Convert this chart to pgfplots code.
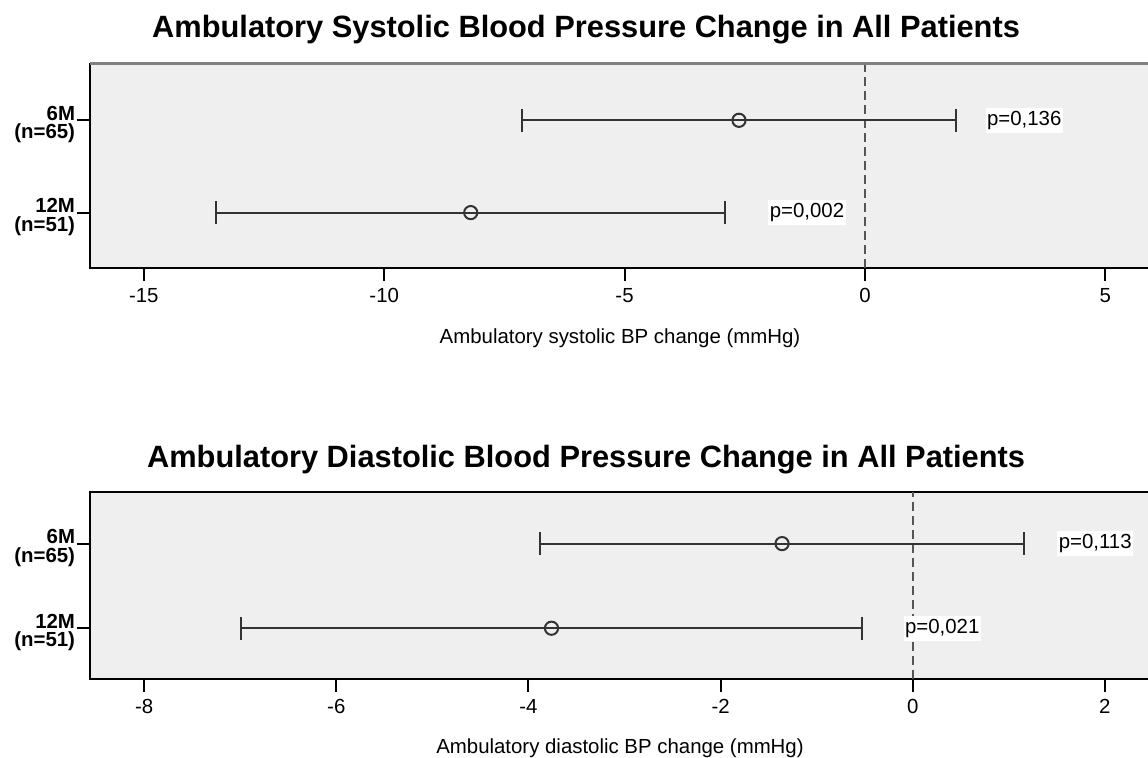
\documentclass[border=0pt]{standalone}
\usepackage{pgfplots}
\pgfplotsset{compat=1.18}
\usepackage{fontspec}
\setmainfont{Liberation Sans}

\definecolor{panelbg}{HTML}{EFEFEF}
\definecolor{ink}{HTML}{333333}
\definecolor{refline}{HTML}{555555}
\definecolor{frametop}{HTML}{808080}

\tikzset{
  plabel/.style={fill=white, inner xsep=0.8pt, inner ysep=1.7pt, anchor=west,
    font=\fontsize{10.2}{12}\selectfont},
}
\pgfplotsset{
  ciplot/.style={
    scale only axis,
    width=530pt,
    axis background/.style={fill=panelbg},
    axis line style={line width=1pt, black},
    tick align=outside,
    xtick pos=bottom, ytick pos=left,
    major tick length=6.5pt,
    every tick/.style={line width=1pt, black},
    ytick={0,1},
    tick label style={font=\fontsize{10.2}{10.2}\selectfont},
    /pgf/number format/assume math mode=true,
    yticklabel style={align=right, anchor=base east, inner sep=0.8pt,
      yshift=-9.3pt, font=\fontsize{10.2}{9.3}\selectfont\bfseries},
    title style={at={(axis description cs:0.468,1)}, anchor=base,
      font=\fontsize{15.4}{18}\selectfont\bfseries},
    xlabel style={at={(axis description cs:0.5,0)}, anchor=base,
      font=\fontsize{10.2}{12}\selectfont},
    ymin=-0.6, ymax=1.61,
  },
  cibar/.style={ink, line width=1.1pt, mark=|, mark size=5.75pt,
    mark options={line width=1.1pt}},
  cimean/.style={only marks, mark=o, mark size=3.3pt,
    mark options={ink, line width=1pt, fill=panelbg}},
  zeroline/.style={refline, line width=1pt, dash pattern=on 4.5pt off 2.5pt},
}

\begin{document}
\begin{tikzpicture}
\useasboundingbox (0,0) rectangle (574pt,-379pt);

% Systolic change: mean with 95% CI at 6 and 12 months
\begin{axis}[ciplot,
  at={(45pt,-32pt)}, anchor=north west,
  height=102pt,
  clip=false,
  xmin=-16.12, xmax=5.93,
  xtick={-15,-10,-5,0,5},
  yticklabels={{12M\\(n=51)},{6M\\(n=65)}},
  title={Ambulatory Systolic Blood Pressure Change in All Patients},
  title style={yshift=7pt},
  xlabel={Ambulatory systolic BP change (mmHg)},
  xlabel style={yshift=-38pt},
]
\addplot[zeroline] coordinates {(0,-0.6) (0,1.61)};
\addplot[cibar] coordinates {(-7.14,1) (1.89,1)};
\addplot[cibar] coordinates {(-13.50,0) (-2.91,0)};
\addplot[cimean] coordinates {(-2.62,1) (-8.20,0)};
\node[plabel] at (axis cs:2.50,1) {p=0,136};
\node[plabel] at (axis cs:-2.02,0) {p=0,002};
\draw[frametop, line width=1.5pt] (rel axis cs:0,1) -- (rel axis cs:1,1);
\end{axis}

% Diastolic change: mean with 95% CI at 6 and 12 months
\begin{axis}[ciplot,
  at={(45pt,-246pt)}, anchor=north west,
  height=93.5pt,
  xmin=-8.564, xmax=2.47,
  xtick={-8,-6,-4,-2,0,2},
  yticklabels={{12M\\(n=51)},{6M\\(n=65)}},
  title={Ambulatory Diastolic Blood Pressure Change in All Patients},
  title style={yshift=6pt},
  xlabel={Ambulatory diastolic BP change (mmHg)},
  xlabel style={yshift=-37.5pt},
]
\addplot[zeroline] coordinates {(0,-0.6) (0,1.61)};
\addplot[cibar] coordinates {(-3.88,1) (1.16,1)};
\addplot[cibar] coordinates {(-6.99,0) (-0.53,0)};
\addplot[cimean] coordinates {(-1.36,1) (-3.76,0)};
\node[plabel] at (axis cs:1.50,1) {p=0,113};
\node[plabel] at (axis cs:-0.10,0) {p=0,021};
\end{axis}
\end{tikzpicture}
\end{document}
